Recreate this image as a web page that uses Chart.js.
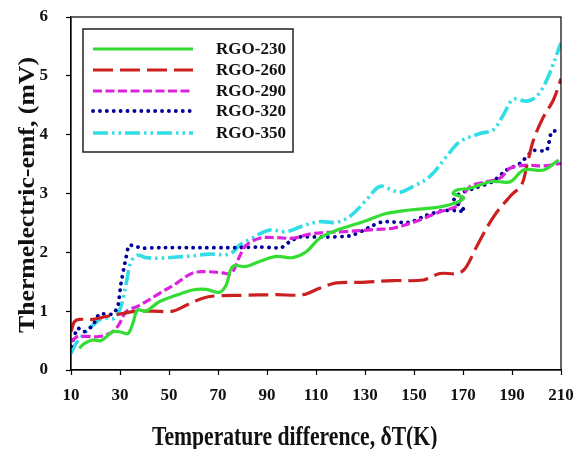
<!DOCTYPE html>
<html>
<head>
<meta charset="utf-8">
<script src="https://cdn.jsdelivr.net/npm/chart.js@4.4.1/dist/chart.umd.min.js"></script>
<style>
  body { margin: 0; background: #fff; }
  #wrap { width: 577px; height: 449px; position: relative; }
</style>
</head>
<body>
<div id="wrap"><canvas id="emfChart"></canvas></div>
<script>
var seriesNames = ['RGO-230', 'RGO-260', 'RGO-290', 'RGO-320', 'RGO-350'];
var xTicks = [10, 30, 50, 70, 90, 110, 130, 150, 170, 190, 210];
var yTicks = [0, 1, 2, 3, 4, 5, 6];

// RGO-230 (loops back near 170 K)
var temp230 = [13.4, 15.4, 18.9, 22.3, 27, 29.8, 33.2, 35.2, 37.2, 40.6, 46, 52.9, 59.7, 65.2, 70.6, 73.3, 76, 81.5, 86.7, 93.8, 100.6, 106, 111.5, 116.9, 122.4, 129.2, 138.7, 148.3, 156.5, 164.6, 170.3, 166, 167.5, 172.9, 181, 185, 189.4, 194.8, 203, 209];
var emf230 = [0.37, 0.45, 0.51, 0.50, 0.65, 0.65, 0.62, 0.79, 1.02, 1.0, 1.16, 1.27, 1.36, 1.37, 1.32, 1.44, 1.76, 1.76, 1.84, 1.93, 1.91, 2.01, 2.24, 2.35, 2.43, 2.52, 2.66, 2.72, 2.75, 2.81, 2.92, 3.0, 3.06, 3.09, 3.2, 3.2, 3.2, 3.4, 3.4, 3.57];

// RGO-260
var temp260 = [10, 11.4, 13.4, 18.9, 24.3, 31.1, 36.6, 43.4, 51.6, 57, 63.8, 69.3, 80.2, 93.8, 104.7, 111.5, 118.3, 127.8, 141.5, 153.8, 160.6, 167.4, 170.8, 175.6, 182.4, 189.2, 193.9, 196, 198.7, 202.8, 206.9, 210];
var emf260 = [0.65, 0.82, 0.86, 0.86, 0.91, 0.96, 1.0, 1.0, 1.0, 1.1, 1.22, 1.26, 1.27, 1.28, 1.28, 1.39, 1.48, 1.49, 1.52, 1.53, 1.64, 1.64, 1.72, 2.1, 2.6, 2.95, 3.15, 3.46, 3.9, 4.3, 4.59, 4.95];

// RGO-290
var temp290 = [10, 12.7, 16.1, 21.6, 27, 29.8, 32.5, 38, 46, 52.9, 59.7, 66.5, 72, 75.4, 78.8, 81.5, 87, 93.8, 100.6, 107.4, 114.2, 121, 134.7, 141.5, 148.3, 152.4, 160.6, 167.4, 169.4, 172.9, 178.3, 185.1, 189.2, 196, 202.8, 210];
var emf290 = [0.48, 0.57, 0.57, 0.57, 0.65, 0.79, 0.99, 1.10, 1.30, 1.47, 1.65, 1.67, 1.65, 1.64, 1.93, 2.12, 2.24, 2.25, 2.24, 2.31, 2.34, 2.35, 2.39, 2.41, 2.49, 2.55, 2.69, 2.78, 2.92, 3.12, 3.19, 3.26, 3.43, 3.48, 3.47, 3.51];

// RGO-320 (loops back near 170 K)
var temp320 = [10, 12.7, 15.4, 18.9, 21.6, 27, 29.1, 30.4, 32.5, 33.8, 37.2, 39.3, 46, 59.7, 77.4, 87, 95.8, 99.2, 103.3, 114.2, 123.8, 129.2, 133.3, 137.4, 148.3, 155.1, 162, 167, 170.8, 168.8, 166.2, 168, 170.5, 173.9, 182, 187.8, 193.2, 198.7, 204.1, 206.2, 210];
var emf320 = [0.40, 0.71, 0.65, 0.76, 0.95, 0.95, 1.08, 1.47, 1.92, 2.12, 2.09, 2.07, 2.08, 2.08, 2.08, 2.09, 2.08, 2.18, 2.26, 2.26, 2.28, 2.37, 2.46, 2.52, 2.51, 2.63, 2.71, 2.71, 2.70, 2.79, 2.88, 2.98, 3.03, 3.08, 3.2, 3.4, 3.51, 3.73, 3.73, 4.05, 4.06];

// RGO-350
var temp350 = [10, 12, 14.8, 18.9, 22.9, 27.7, 30.4, 32.5, 34.5, 37.2, 40.6, 46, 52.9, 59.7, 66.5, 74.7, 78.8, 82.9, 91.1, 97.9, 104.7, 111.5, 118.3, 123.8, 130.6, 136, 141.5, 144.3, 149.7, 156.5, 163.3, 168.7, 176.9, 182.3, 186.4, 190.5, 196, 200, 204.1, 210];
var emf350 = [0.28, 0.45, 0.59, 0.76, 0.88, 0.88, 1.08, 1.47, 1.84, 1.95, 1.91, 1.90, 1.92, 1.94, 1.97, 1.97, 2.12, 2.22, 2.38, 2.35, 2.45, 2.52, 2.51, 2.61, 2.89, 3.12, 3.05, 3.02, 3.12, 3.29, 3.63, 3.88, 4.02, 4.08, 4.33, 4.6, 4.57, 4.65, 4.92, 5.56];

function toPoints(xs, ys) {
    return xs.map(function (x, i) { return { x: x, y: ys[i] }; });
}

var serif = "'Liberation Serif', 'Times New Roman', serif";
var styles = [
    { color: '#33dd33', dash: [], width: 3.2, cap: 'butt', tension: 0.35 },
    { color: '#cc2020', dash: [20, 7], width: 3.2, cap: 'butt', tension: 0.35 },
    { color: '#dd22dd', dash: [9, 3.5], width: 3.2, cap: 'butt', tension: 0.35 },
    { color: '#000099', dash: [0.1, 6.8], width: 3.8, cap: 'round', tension: 0.2 },
    { color: '#33dde6', dash: [15, 4, 2.5, 4, 2.5, 4], width: 3.6, cap: 'butt', tension: 0.35 }
];
var allX = [temp230, temp260, temp290, temp320, temp350];
var allY = [emf230, emf260, emf290, emf320, emf350];

var datasets = seriesNames.map(function (name, i) {
    var s = styles[i];
    return {
        label: name,
        data: toPoints(allX[i], allY[i]),
        borderColor: s.color,
        backgroundColor: s.color,
        borderWidth: s.width,
        borderDash: s.dash,
        borderCapStyle: s.cap,
        pointRadius: 0,
        tension: s.tension,
        fill: false
    };
});

// fixed axis box sizes, no extra label padding
function fixX(s) { s.height = 79; s.paddingLeft = 0; s.paddingRight = 0; }
function fixY(s) { s.width = 71; s.paddingTop = 0; s.paddingBottom = 0; }

// frame, legend box and axis titles
var extras = {
    id: 'extras',
    afterDraw: function (chart) {
        var c = chart.ctx, a = chart.chartArea;
        c.save();
        c.strokeStyle = '#000';
        c.lineWidth = 1.2;
        c.setLineDash([]);
        c.strokeRect(a.left, a.top, a.right - a.left, a.bottom - a.top);

        // legend
        c.fillStyle = '#fff';
        c.fillRect(83, 29, 210, 123);
        c.strokeStyle = '#222';
        c.lineWidth = 1.5;
        c.strokeRect(83, 29, 210, 123);
        var rows = [49, 70, 91, 111, 133];
        c.font = 'bold 17px ' + serif;
        c.textBaseline = 'middle';
        rows.forEach(function (y, i) {
            var s = styles[i];
            c.beginPath();
            c.strokeStyle = s.color;
            c.lineWidth = s.width;
            c.lineCap = s.cap;
            c.setLineDash(s.dash);
            c.moveTo(93, y);
            c.lineTo(193, y);
            c.stroke();
            c.fillStyle = '#111';
            c.fillText(seriesNames[i], 216, y + 1);
        });

        c.setLineDash([]);
        c.fillStyle = '#111';

        // x title, a little taller than wide like the source
        c.save();
        c.font = 'bold 21px ' + serif;
        c.textAlign = 'left';
        c.textBaseline = 'alphabetic';
        c.translate(152, 445);
        c.scale(1.03, 1.25);
        c.fillText('Temperature difference, \u03b4T(K)', 0, 0);
        c.restore();

        // y title
        c.save();
        c.font = 'bold 23px ' + serif;
        c.textAlign = 'center';
        c.textBaseline = 'middle';
        c.translate(28, 195);
        c.rotate(-Math.PI / 2);
        c.scale(1.12, 1);
        c.fillText('Thermelectric-emf, (mV)', 0, 0);
        c.restore();

        c.restore();
    }
};

var ctx = document.getElementById('emfChart').getContext('2d');
var emfChart = new Chart(ctx, {
    type: 'line',
    data: { datasets: datasets },
    options: {
        responsive: true,
        maintainAspectRatio: false,
        animation: false,
        layout: { padding: { top: 17, right: 16, left: 0, bottom: 0 } },
        plugins: {
            legend: { display: false },
            tooltip: { enabled: false }
        },
        scales: {
            x: {
                type: 'linear',
                min: 10,
                max: 210,
                afterBuildTicks: function (s) { s.ticks = xTicks.map(function (v) { return { value: v }; }); },
                afterFit: fixX,
                grid: { drawOnChartArea: false, tickLength: 5, color: '#000', tickWidth: 1.2 },
                border: { color: '#000', width: 1.2 },
                ticks: {
                    color: '#111',
                    padding: 10,
                    maxRotation: 0,
                    font: { family: serif, size: 17, weight: 'bold' }
                }
            },
            y: {
                min: 0,
                max: 6,
                afterBuildTicks: function (s) { s.ticks = yTicks.map(function (v) { return { value: v }; }); },
                afterFit: fixY,
                grid: { drawOnChartArea: false, tickLength: 5, color: '#000', tickWidth: 1.2 },
                border: { color: '#000', width: 1.2 },
                ticks: {
                    color: '#111',
                    padding: 18,
                    font: { family: serif, size: 17, weight: 'bold' }
                }
            }
        }
    },
    plugins: [extras]
});
</script>
</body>
</html>
